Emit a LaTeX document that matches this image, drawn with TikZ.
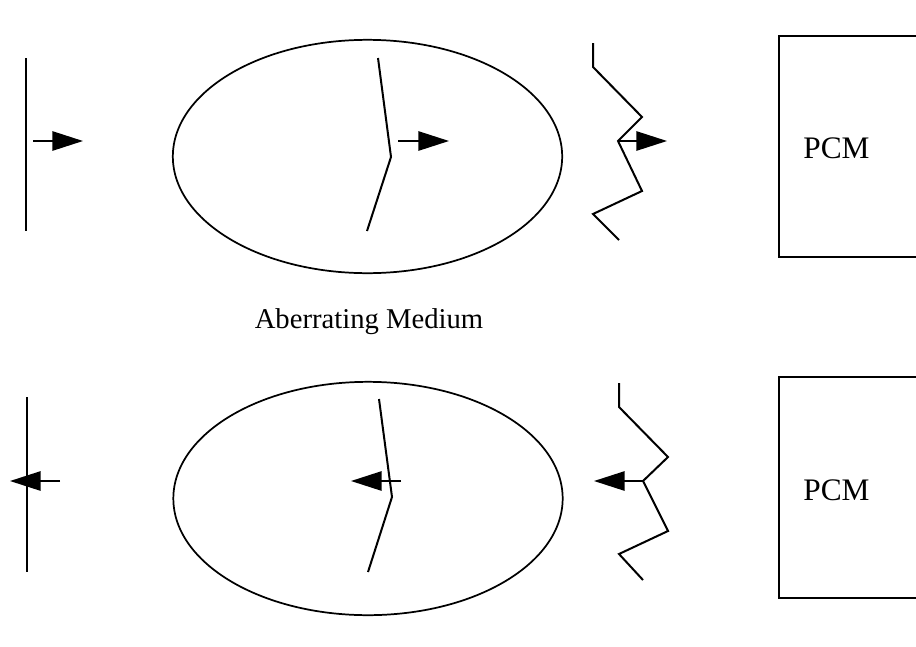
\documentclass[tikz,border=0pt]{standalone}
\usepackage{fontspec}
\setmainfont{Liberation Serif}
\usetikzlibrary{arrows.meta,shapes.geometric}
\begin{document}
\begin{tikzpicture}[x=0.75pt,y=-0.75pt,
  wline/.style={line width=1.5pt,line join=miter},
  beam/.style={line width=1.3pt,-{Triangle[length=23pt,width=14.5pt]}},
  medium/.style={draw,ellipse,line width=1.3pt,minimum width=292pt,minimum height=175pt,inner sep=0pt},
  pcmbox/.style={draw,line width=1.5pt,minimum width=120pt,minimum height=166pt,anchor=north west,inner sep=0pt},
  lbl/.style={font=\fontsize{21.5}{24}\selectfont,inner sep=0pt},
  pcml/.style={font=\fontsize{23.5}{26}\selectfont,inner sep=0pt}]
\useasboundingbox (0,0) rectangle (916,646);
\fill[white] (0,0) rectangle (916,646);
% ---------- top row ----------
\draw[wline] (26,58) coordinate (t1a) -- (26,231) coordinate (t1b);
\coordinate (t1s) at (33,141); \coordinate (t1e) at (83,141);
\draw[beam] (t1s) -- (t1e);
\node[medium] (m1) at (367.5,156.5) {};
\draw[wline] (378,58) coordinate (t2a) -- (391,157) coordinate (t2b) -- (367,231) coordinate (t2c);
\coordinate (t2s) at (398,141); \coordinate (t2e) at (449,141);
\draw[beam] (t2s) -- (t2e);
\draw[wline] (593,43) -- (593,67) -- (642,117) -- (618,141) coordinate (t3k) -- (642,191) -- (593,214) -- (619,240);
\coordinate (t3e) at (667,141);
\draw[beam] (t3k) -- (t3e);
\node[pcmbox] (p1) at (778,35) {};
\node[pcml] (pcm1) at (836.5,148) {PCM};
% ---------- label ----------
\node[lbl] (ab) at (369,322) {Aberrating Medium};
% ---------- bottom row ----------
\draw[wline] (27,397) coordinate (b1a) -- (27,572) coordinate (b1b);
\coordinate (b1s) at (60,481); \coordinate (b1e) at (10,481);
\draw[beam] (b1s) -- (b1e);
\node[medium] (m2) at (368,498.5) {};
\draw[wline] (379,399) coordinate (b2a) -- (392,497) coordinate (b2b) -- (368,572) coordinate (b2c);
\coordinate (b2s) at (401,481); \coordinate (b2e) at (351,481);
\draw[beam] (b2s) -- (b2e);
\draw[wline] (619,383) -- (619,407) -- (668,457) -- (643,481) coordinate (b3k) -- (668,531) -- (619,554) -- (643,580);
\coordinate (b3e) at (594,481);
\draw[beam] (b3k) -- (b3e);
\node[pcmbox] (p2) at (778,376) {};
\node[pcml] (pcm2) at (836.5,490) {PCM};
\end{tikzpicture}
\end{document}
